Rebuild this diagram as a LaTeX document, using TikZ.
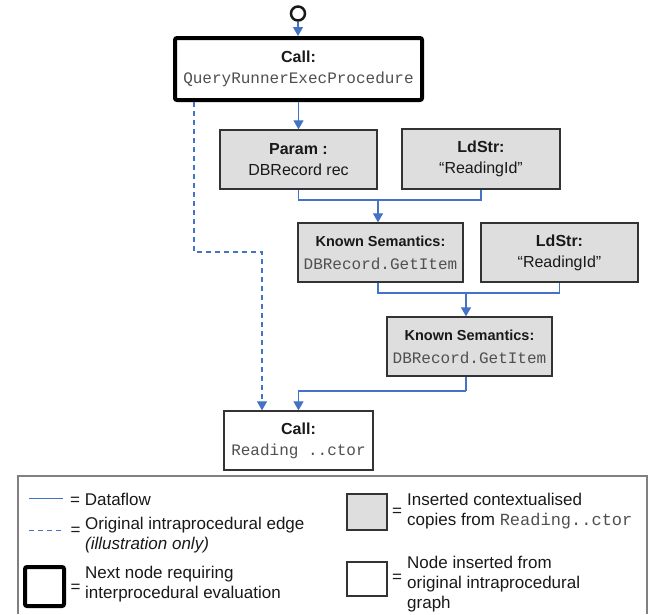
\documentclass[tikz,border=0pt]{standalone}
\usepackage{fontspec}
\setmainfont{Liberation Sans}
\setmonofont{Liberation Mono}
\usetikzlibrary{arrows.meta,calc}
\definecolor{flow}{HTML}{4472C4}
\definecolor{boxgray}{HTML}{DEDEDE}
\definecolor{monogray}{HTML}{505050}
\definecolor{framegray}{HTML}{808080}
\newcommand\codetxt[1]{{\ttfamily\color{monogray}#1}}
\begin{document}
\begin{tikzpicture}[x=1pt,y=-1pt,
  nodefont/.style={font=\fontsize{16}{21}\selectfont},
  legfont/.style={font=\fontsize{17}{20}\selectfont},
  basebox/.style={nodefont, align=center, inner sep=0pt, text=black!90},
  copybox/.style={basebox, draw=black!80, line width=1.3pt, fill=boxgray},
  origbox/.style={basebox, draw=black!80, line width=1.3pt, fill=white},
  nextbox/.style={basebox, draw=black, line width=4pt, rounded corners=2pt, fill=white},
  flowline/.style={draw=flow, line width=1.2pt},
  flowarrow/.style={flowline, -{Triangle[width=10pt,length=9pt]}},
  origedge/.style={flowline, dash pattern=on 5pt off 4pt},
  origarrow/.style={origedge, -{Triangle[width=10pt,length=9pt]}},
  legtext/.style={legfont, align=left, inner sep=0pt, anchor=west, text=black!90},
  eqsign/.style={legfont, inner sep=0pt, text=black!90}
]
\useasboundingbox (0,0) rectangle (664,614);

% start marker
\node[circle, draw=black!90, line width=2.5pt, minimum size=14pt, inner sep=0pt] (start) at (298,13.5) {};

% nodes
\node[nextbox, minimum width=247pt, minimum height=62pt] (call1) at (298.5,69)
  {{\bfseries Call:}\\\codetxt{QueryRunnerExecProcedure}};
\node[copybox, minimum width=157pt, minimum height=59pt] (param) at (298.5,159.5)
  {{\bfseries Param :}\\DBRecord rec};
\node[copybox, minimum width=158pt, minimum height=60pt] (ld1) at (481,159)
  {{\bfseries LdStr:}\\``ReadingId''};
\node[copybox, minimum width=165pt, minimum height=59pt, font=\fontsize{16}{23}\selectfont] (ks1) at (380.5,252.5)
  {{\fontsize{14.5}{17}\selectfont\bfseries Known Semantics:}\\\codetxt{DBRecord.GetItem}};
\node[copybox, minimum width=157pt, minimum height=59pt] (ld2) at (559.5,252.5)
  {{\bfseries LdStr:}\\``ReadingId''};
\node[copybox, minimum width=165pt, minimum height=59pt, font=\fontsize{16}{23}\selectfont] (ks2) at (469.5,346.5)
  {{\fontsize{14.5}{17}\selectfont\bfseries Known Semantics:}\\\codetxt{DBRecord.GetItem}};
\node[origbox, minimum width=149pt, minimum height=59pt] (call2) at (298.5,440.5)
  {{\bfseries Call:}\\\codetxt{Reading ..ctor}};

% merge points
\coordinate (m1) at (378,200);
\coordinate (m2) at (466,293);
\coordinate (m3) at (466,391);
\coordinate (d1) at (194,252);

% dataflow edges
\draw[flowarrow] (start) -- (call1.north -| start);
\draw[flowarrow] (call1.south -| param.north) -- (param.north);
\draw[flowline] (param.south) |- (m1) -| (ld1.south);
\draw[flowarrow] (m1) -- (m1 |- ks1.north);
\draw[flowline] (m1 |- ks1.south) |- (m2) -| (ld2.south);
\draw[flowarrow] (m2) -- (m2 |- ks2.north);
\draw[flowline] (m3 |- ks2.south) -- (m3);
\draw[flowarrow] (m3) -| (call2.north);

% original intraprocedural edge
\draw[origarrow] (call1.south -| d1) -- (d1) -| ($(call2.north)+(-36.5,0)$);

% legend frame
\draw[framegray, line width=1.5pt] (18,614) -- (18,476) -- (647,476) -- (647,614);

% legend: dataflow
\coordinate (lg1a) at (29,498);
\coordinate (lg1b) at (63,498);
\draw[flowline, line width=1pt] (lg1a) -- (lg1b);
\node[legtext] (lgt1) at (70,499) {= Dataflow};

% legend: original edge
\coordinate (lg2a) at (29,530);
\coordinate (lg2b) at (63,530);
\draw[origedge, line width=1pt] (lg2a) -- (lg2b);
\node[eqsign] (eq2) at (75.5,531) {=};
\node[legtext] (lgt2) at (85,535) {Original intraprocedural edge\\\textit{(illustration only)}};

% legend: next node
\node[draw=black, line width=4pt, rounded corners=2pt, minimum width=39pt, minimum height=39pt, inner sep=0pt] (lgbox3) at (44.5,586.5) {};
\node[eqsign] (eq3) at (75.5,588) {=};
\node[legtext] (lgt3) at (85,584) {Next node requiring\\interprocedural evaluation};

% legend: copied node
\node[draw=black!80, line width=1.3pt, fill=boxgray, minimum width=40pt, minimum height=36pt, inner sep=0pt] (lgbox4) at (367,512) {};
\node[eqsign] (eq4) at (397,512) {=};
\node[legtext] (lgt4) at (407,511) {Inserted contextualised\\copies from \codetxt{Reading..ctor}};

% legend: original node
\node[draw=black!80, line width=1.3pt, fill=white, minimum width=40pt, minimum height=34pt, inner sep=0pt] (lgbox5) at (367,579) {};
\node[eqsign] (eq5) at (397,578) {=};
\node[legtext] (lgt5) at (407,584) {Node inserted from\\original intraprocedural\\graph};
\end{tikzpicture}
\end{document}
